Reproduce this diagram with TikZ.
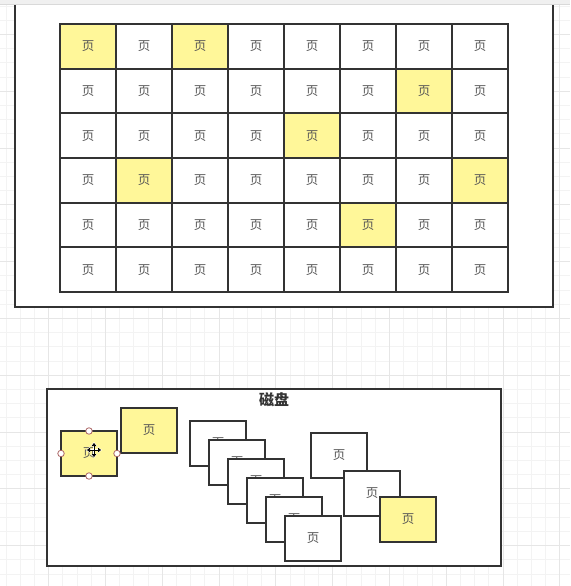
\documentclass[tikz,border=0pt]{standalone}
\usepackage{fontspec}
\newfontfamily\cjk{Noto Sans CJK SC}
\usetikzlibrary{arrows.meta,calc}
\definecolor{pageyellow}{RGB}{255,247,153}
\definecolor{edge}{RGB}{51,51,51}
\definecolor{txt}{RGB}{85,85,85}
\definecolor{gridminor}{RGB}{243,243,243}
\definecolor{gridmajor}{RGB}{230,230,230}
\definecolor{handle}{RGB}{170,100,100}
\begin{document}
\begin{tikzpicture}[x=1pt,y=-1pt,
  page/.style={draw=edge,line width=2pt,fill=white,minimum width=56pt,minimum height=45pt,inner sep=0pt,outer sep=0pt,font=\cjk\fontsize{12.5}{12.5}\selectfont,text=txt},
  hot/.style={page,fill=pageyellow},
  cellw/.style={page,draw=none,minimum height=44.67pt},
  cellh/.style={cellw,fill=pageyellow},
  frame/.style={draw=edge,line width=2pt,fill=white},
  cellborder/.style={draw=edge,line width=2pt},
  knob/.style={circle,draw=handle,fill=white,line width=0.8pt,minimum size=6.5pt,inner sep=0pt},
  minorline/.style={gridminor,line width=0.8pt},
  majorline/.style={gridmajor,line width=0.9pt}]
\useasboundingbox (0,0) rectangle (570,586);
\fill[white] (0,0) rectangle (570,586);
% background grid
\foreach \i in {0,...,40} { \draw[minorline] ({6.0+14.2*\i},0) -- ++(0,586); }
\foreach \j in {0,...,41} { \draw[minorline] (0,{6.0+14.2*\j}) -- ++(570,0); }
\foreach \k in {0,...,9} { \draw[majorline] ({48.6+56.8*\k},0) -- ++(0,586); }
\foreach \k in {0,...,9} { \draw[majorline] (0,{34.4+56.8*\k}) -- ++(570,0); }
% top frame (memory)
\draw[frame] (15,-5) rectangle (553,307);
\fill[gray!12] (0,0) rectangle (570,4.5);
\draw[gray!30,line width=0.6pt] (0,4.5) -- (570,4.5);
% page table cells: fills and texts
\foreach \r in {0,...,5}{\foreach \c in {0,...,7}{
  \gdef\cellstyle{cellw}
  \foreach \a/\b in {0/0,0/2,1/6,2/4,3/1,3/7,4/5}{\ifnum\a=\r\relax\ifnum\b=\c\relax\gdef\cellstyle{cellh}\fi\fi}
  \node[\cellstyle] (cell-\r-\c) at ({60+56*(\c+0.5)},{24+44.67*(\r+0.5)}) {页};
}}
% page table cells: borders
\foreach \r in {0,...,5}{\foreach \c in {0,...,7}{
  \draw[cellborder] (cell-\r-\c.north west) rectangle (cell-\r-\c.south east);
}}
% disk frame
\draw[frame] (47,389) rectangle (501,566);
\node[font=\cjk\bfseries\fontsize{15}{15}\selectfont,text=edge] (disk) at (274,399.5) {磁盘};
% disk pages
\node[hot] (sel) at (89,453.5) {页};
\node[hot] (y2) at (149,430.5) {页};
\node[page] (s1) at (218,443.5) {页};
\node[page] (s2) at (237,462.5) {页};
\node[page] (s3) at (256,481.5) {页};
\node[page] (s4) at (275,500.5) {页};
\node[page] (s5) at (294,519.5) {页};
\node[page] (s6) at (313,538.5) {页};
\node[page] (ra) at (339,455.5) {页};
\node[page] (rb) at (372,493.5) {页};
\node[hot] (rc) at (408,519.5) {页};
% selection handles
\node[knob] (hn) at (sel.north) {};
\node[knob] (hs) at (sel.south) {};
\node[knob] (hw) at (sel.west) {};
\node[knob] (he) at (sel.east) {};
% move cursor
\coordinate (cur) at (94,450);
\draw[white,line width=2.6pt,{Triangle[length=4pt,width=6pt]}-{Triangle[length=4pt,width=6pt]}] ($(cur)+(0,-8)$) -- ($(cur)+(0,8)$);
\draw[white,line width=2.6pt,{Triangle[length=4pt,width=6pt]}-{Triangle[length=4pt,width=6pt]}] ($(cur)+(-8,0)$) -- ($(cur)+(8,0)$);
\draw[black,line width=0.9pt,{Triangle[length=3pt,width=4.5pt]}-{Triangle[length=3pt,width=4.5pt]}] ($(cur)+(0,-7)$) -- ($(cur)+(0,7)$);
\draw[black,line width=0.9pt,{Triangle[length=3pt,width=4.5pt]}-{Triangle[length=3pt,width=4.5pt]}] ($(cur)+(-7,0)$) -- ($(cur)+(7,0)$);
\end{tikzpicture}
\end{document}
